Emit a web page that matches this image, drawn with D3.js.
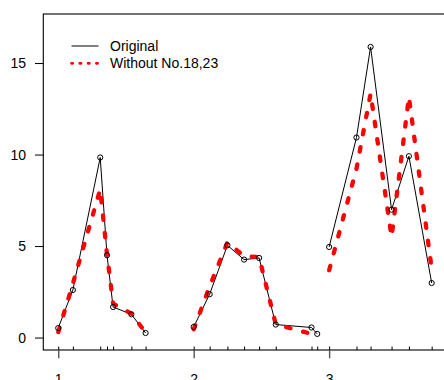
<!DOCTYPE html>
<html>
<head>
<meta charset="utf-8">
<script src="https://cdn.jsdelivr.net/npm/d3@7/dist/d3.min.js"></script>
<style>
  html, body { margin: 0; padding: 0; background: #fff; }
  svg { display: block; font-family: "Liberation Sans", Arial, sans-serif; }
</style>
</head>
<body>
<svg id="chart" width="444" height="380"></svg>
<script>
// Three runs of measurements, each plotted as its own polyline
const xGroups = [
  [1.000, 1.108, 1.310, 1.360, 1.405, 1.540, 1.645],
  [2.000, 2.118, 2.249, 2.372, 2.483, 2.606, 2.870, 2.912],
  [3.000, 3.202, 3.306, 3.461, 3.589, 3.757]
];
const originalValues = [
  [0.52, 2.60, 9.84, 4.50, 1.67, 1.27, 0.25],
  [0.58, 2.37, 5.04, 4.26, 4.35, 0.71, 0.55, 0.20],
  [4.95, 10.93, 15.88, 6.99, 9.91, 2.98]
];
const reducedValues = [
  [0.30, 2.95, 8.10, 4.55, 1.86, 1.30, 0.28],
  [0.45, 2.80, 5.20, 4.45, 4.40, 0.72, 0.20, 0.17],
  [3.68, 9.23, 13.33, 5.50, 13.15, 3.77]
];
const xTicks = [1, 2, 3];
const yTicks = [0, 5, 10, 15];
const yLimits = [0, 17];
const legendLabels = ["Original", "Without No.18,23"];

const svg = d3.select("#chart");
const plot = { left: 43.3, top: 14, bottom: 350, right: 446.6 };

// axis limits padded by 4% on each side
const allX = xGroups.flat();
const xExt = d3.extent(allX);
const xPad = (xExt[1] - xExt[0]) * 0.04;
const yPad = (yLimits[1] - yLimits[0]) * 0.04;

const x = d3.scaleLinear()
  .domain([xExt[0] - xPad, xExt[1] + xPad])
  .range([plot.left, plot.right]);
const y = d3.scaleLinear()
  .domain([yLimits[0] - yPad, yLimits[1] + yPad])
  .range([plot.bottom, plot.top]);

// frame
svg.append("rect")
  .attr("x", plot.left).attr("y", plot.top)
  .attr("width", plot.right - plot.left).attr("height", plot.bottom - plot.top)
  .attr("fill", "none").attr("stroke", "#000").attr("stroke-width", 1.1);

// y axis
const yAxis = d3.axisLeft(y).tickValues(yTicks).tickSize(8.3).tickPadding(9).tickFormat(d3.format("d"));
const gy = svg.append("g").attr("transform", `translate(${plot.left},0)`).call(yAxis);
gy.select(".domain").remove();
gy.selectAll("text").attr("font-size", 14).attr("fill", "#000")
  .attr("font-family", "Liberation Sans, Arial, sans-serif");
gy.selectAll("line").attr("stroke", "#000");

// x axis: major ticks outward
const xAxis = d3.axisBottom(x).tickValues(xTicks).tickSize(8.3).tickPadding(16).tickFormat(d3.format("d"));
const gx = svg.append("g").attr("transform", `translate(0,${plot.bottom})`).call(xAxis);
gx.select(".domain").remove();
gx.selectAll("text").attr("font-size", 14).attr("fill", "#000")
  .attr("font-family", "Liberation Sans, Arial, sans-serif");
gx.selectAll("line").attr("stroke", "#555").attr("stroke-width", 1.4);

// rug of measurement positions, pointing inward
const rug = d3.axisTop(x).tickValues(allX).tickSize(3.5).tickFormat("");
const gr = svg.append("g").attr("transform", `translate(0,${plot.bottom})`).call(rug);
gr.select(".domain").remove();
gr.selectAll("line").attr("stroke", "#000");

const line = d3.line().x(d => x(d[0])).y(d => y(d[1]));

// original series
xGroups.forEach((xs, i) => {
  const pts = xs.map((v, j) => [v, originalValues[i][j]]);
  svg.append("path").datum(pts).attr("d", line)
    .attr("fill", "none").attr("stroke", "#000").attr("stroke-width", 1);
});

// reduced series, thick red dots
xGroups.forEach((xs, i) => {
  const pts = xs.map((v, j) => [v, reducedValues[i][j]]);
  svg.append("path").datum(pts).attr("d", line)
    .attr("fill", "none").attr("stroke", "#ff0000").attr("stroke-width", 4.3)
    .attr("stroke-linecap", "round").attr("stroke-linejoin", "round")
    .attr("stroke-dasharray", "4.5,13");
});

// open circles on the original points
xGroups.forEach((xs, i) => {
  svg.append("g").selectAll("circle")
    .data(xs.map((v, j) => [v, originalValues[i][j]]))
    .join("circle")
    .attr("cx", d => x(d[0])).attr("cy", d => y(d[1])).attr("r", 2.6)
    .attr("fill", "none").attr("stroke", "#000").attr("stroke-width", 1);
});

// legend
const legend = svg.append("g");
legend.append("line").attr("x1", 71.5).attr("x2", 98.5).attr("y1", 46).attr("y2", 46)
  .attr("stroke", "#000").attr("stroke-width", 1);
legend.append("line").attr("x1", 71.5).attr("x2", 98.5).attr("y1", 63.3).attr("y2", 63.3)
  .attr("stroke", "#ff0000").attr("stroke-width", 2.8)
  .attr("stroke-linecap", "round").attr("stroke-dasharray", "1.2,7.1");
legend.selectAll("text").data(legendLabels).join("text")
  .attr("x", 110).attr("y", (d, i) => 51 + i * 17.3)
  .attr("font-size", 14).attr("fill", "#000")
  .text(d => d);
</script>
</body>
</html>
